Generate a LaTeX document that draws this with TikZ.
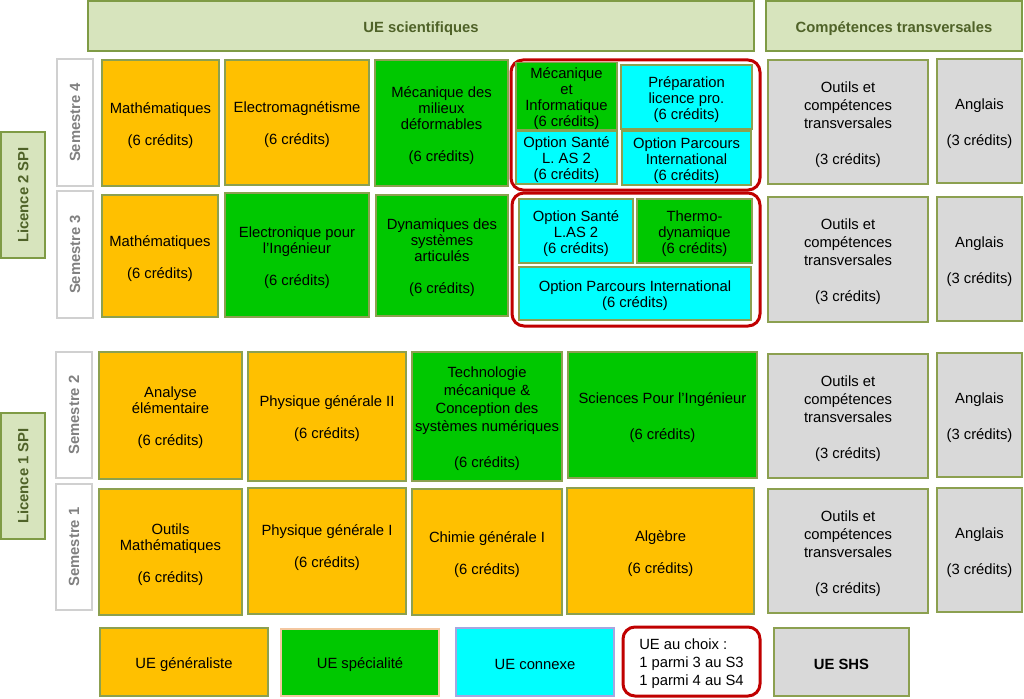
\documentclass[tikz,border=0pt]{standalone}
\usepackage{fontspec}
\setmainfont{Liberation Sans}
\definecolor{orng}{HTML}{FFC000}
\definecolor{grn}{HTML}{00C800}
\definecolor{cyn}{HTML}{00FFFF}
\definecolor{gry}{HTML}{D9D9D9}
\definecolor{bord}{HTML}{8CA050}
\definecolor{hfill}{HTML}{D7E4BD}
\definecolor{hbord}{HTML}{7F9B45}
\definecolor{htext}{HTML}{4F6228}
\definecolor{semb}{HTML}{D0D0D0}
\definecolor{semt}{HTML}{808080}
\definecolor{redc}{HTML}{C00000}
\definecolor{peach}{HTML}{F4C7A0}
\definecolor{lilac}{HTML}{A6A6E0}
\tikzset{
  base/.style={draw=bord, line width=1.4pt, inner sep=0pt, align=center, text=black,
    font=\fontsize{14.8}{16}\selectfont},
  lbig/.style={font=\fontsize{14.8}{18}\selectfont},
  gen/.style={base, fill=orng},
  spe/.style={base, fill=grn},
  cnx/.style={base, fill=cyn},
  trv/.style={base, fill=gry, lbig},
  hdr/.style={base, fill=hfill, draw=hbord, text=htext, font=\fontsize{14.8}{16}\selectfont\bfseries},
  sem/.style={base, fill=white, draw=semb, text=semt, font=\fontsize{14.8}{16}\selectfont\bfseries},
  choice/.style={draw=redc, line width=3pt, rounded corners=12pt, inner sep=0pt},
}
\newcommand\lowr{\rule{0pt}{16pt}}
\newcommand\bx[7]{\node[#6, minimum width={(#4-#2)*1pt}, minimum height={(#5-#3)*1pt}] (#1) at ({(#2+#4)/2},{(#3+#5)/2}) {\lowr#7};}
\newcommand\rbx[7]{\node[#6, rotate=90, minimum width={(#5-#3)*1pt}, minimum height={(#4-#2)*1pt}] (#1) at ({(#2+#4)/2},{(#3+#5)/2}) {#7};}
\begin{document}
\begin{tikzpicture}[x=1pt,y=-1pt]
\useasboundingbox (0,0) rectangle (1024,698);
% headers
\bx{hsci}{88}{1}{754}{51}{hdr}{UE scientifiques}
\bx{htrv}{766}{1}{1022}{51}{hdr}{Compétences transversales}
% licence labels
\rbx{l2}{1}{132}{45}{258}{hdr}{Licence 2 SPI}
\rbx{l1}{1}{413}{45}{539}{hdr}{Licence 1 SPI}
% semester labels
\rbx{s4}{57}{59}{93}{186}{sem}{Semestre 4}
\rbx{s3}{57}{191}{93}{318}{sem}{Semestre 3}
\rbx{s2}{56}{352}{92}{478}{sem}{Semestre 2}
\rbx{s1}{56}{484}{92}{610}{sem}{Semestre 1}
% S4
\bx{m4}{102}{60}{219}{186}{gen}{Mathématiques\\[16pt](6 crédits)}
\bx{em4}{225}{60}{369}{185}{gen}{Electromagnétisme\\[16pt](6 crédits)}
\bx{mmd}{375}{60}{508}{186}{spe}{Mécanique des\\milieux\\déformables\\[16pt](6 crédits)}
\bx{g4}{511}{60}{760}{190}{choice}{}
\bx{mi}{516}{65}{617}{127}{spe}{Mécanique\\et\\Informatique\\(6 crédits)}
\bx{plp}{621}{65}{752}{129}{cnx}{Préparation\\licence pro.\\(6 crédits)}
\bx{os4}{516}{131}{617}{184}{cnx}{Option Santé\\L. AS 2\\(6 crédits)}
\bx{opi4}{622}{131}{751}{185}{cnx}{Option Parcours\\International\\(6 crédits)}
\bx{o4}{768}{60}{928}{184}{trv}{Outils et\\compétences\\transversales\\[18pt](3 crédits)}
\bx{a4}{937}{59}{1022}{183}{trv}{Anglais\\[18pt](3 crédits)}
% S3
\bx{m3}{102}{195}{218}{317}{gen}{Mathématiques\\[16pt](6 crédits)}
\bx{el3}{225}{193}{369}{317}{spe}{Electronique pour\\l’Ingénieur\\[16pt](6 crédits)}
\bx{dy3}{376}{195}{508}{316}{spe}{Dynamiques des\\systèmes\\articulés\\[16pt](6 crédits)}
\bx{g3}{512}{193}{760}{326}{choice}{}
\bx{os3}{519}{199}{633}{263}{cnx}{Option Santé\\L.AS 2\\(6 crédits)}
\bx{th3}{637}{199}{752}{263}{spe}{Thermo-\\dynamique\\(6 crédits)}
\bx{opi3}{519}{267}{751}{320}{cnx}{Option Parcours International\\(6 crédits)}
\bx{o3}{768}{197}{928}{322}{trv}{Outils et\\compétences\\transversales\\[18pt](3 crédits)}
\bx{a3}{937}{197}{1022}{321}{trv}{Anglais\\[18pt](3 crédits)}
% S2
\bx{an2}{99}{352}{242}{479}{gen}{Analyse\\élémentaire\\[16pt](6 crédits)}
\bx{ph2}{248}{352}{406}{481}{gen}{Physique générale II\\[16pt](6 crédits)}
\bx{te2}{412}{352}{562}{481}{spe,lbig}{Technologie\\mécanique \&\\Conception des\\systèmes numériques\\[18pt](6 crédits)}
\bx{sp2}{568}{352}{757}{478}{spe,lbig}{Sciences Pour l’Ingénieur\\[18pt](6 crédits)}
\bx{o2}{768}{354}{928}{478}{trv}{Outils et\\compétences\\transversales\\[18pt](3 crédits)}
\bx{a2}{937}{353}{1022}{477}{trv}{Anglais\\[18pt](3 crédits)}
% S1
\bx{om1}{99}{489}{242}{615}{gen}{Outils\\Mathématiques\\[16pt](6 crédits)}
\bx{ph1}{248}{488}{406}{614}{gen}{Physique générale I\\[16pt](6 crédits)\\\mbox{}}
\bx{ch1}{412}{489}{562}{615}{gen}{Chimie générale I\\[16pt](6 crédits)}
\bx{al1}{567}{488}{754}{614}{gen}{Algèbre\\[16pt](6 crédits)}
\bx{o1}{768}{489}{928}{613}{trv}{Outils et\\compétences\\transversales\\[18pt](3 crédits)}
\bx{a1}{937}{488}{1022}{612}{trv}{Anglais\\[18pt](3 crédits)}
% legend
\bx{lgen}{100}{628}{268}{696}{gen}{UE généraliste}
\bx{lspe}{281}{629}{439}{696}{spe,draw=peach}{UE spécialité}
\bx{lcnx}{456}{628}{614}{696}{cnx,draw=lilac}{UE connexe}
\bx{lch}{623}{627}{760}{696}{choice,fill=white,align=left,font=\fontsize{14.8}{18}\selectfont}{UE au choix :\\1 parmi 3 au S3\\1 parmi 4 au S4}
\bx{lshs}{774}{628}{909}{696}{trv,font=\fontsize{14.8}{16}\selectfont\bfseries}{UE SHS}
\end{tikzpicture}
\end{document}
